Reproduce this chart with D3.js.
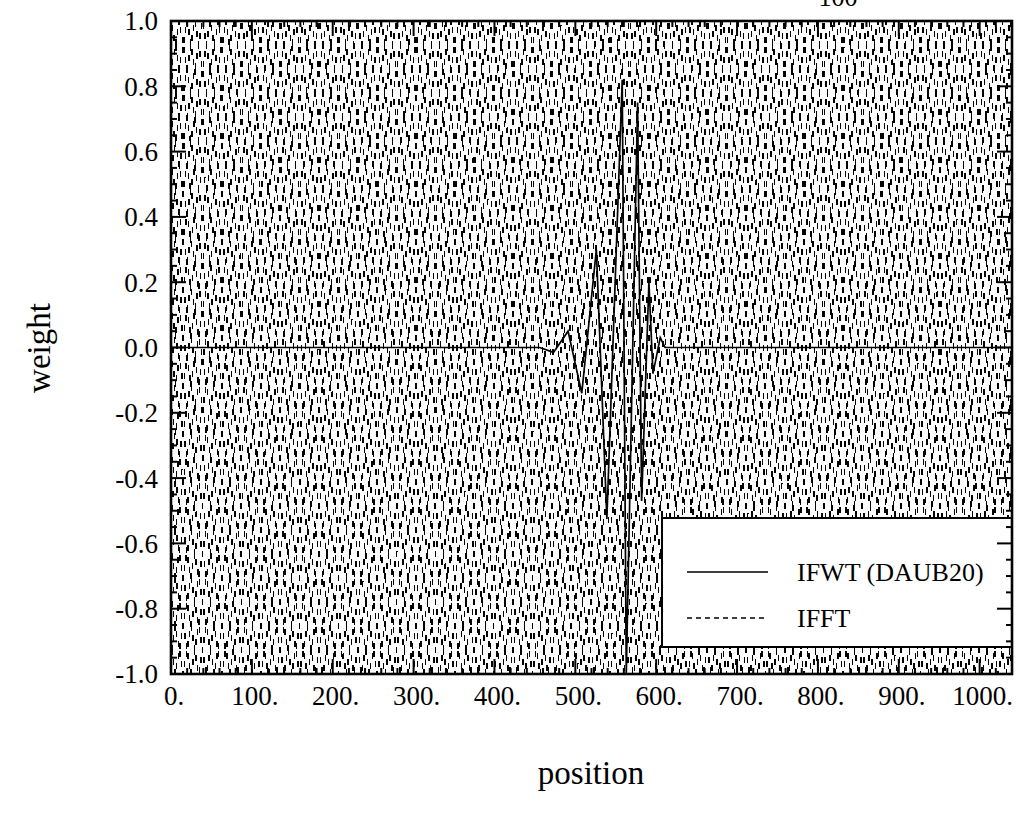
<!DOCTYPE html>
<html><head><meta charset="utf-8">
<script src="https://cdn.jsdelivr.net/npm/d3@7"></script>
<style>
body{margin:0;background:#fff}
svg{display:block}
text{font-family:"Liberation Serif","Times New Roman",serif;fill:#000}
</style>
</head><body>
<svg id="c" width="1031" height="813"></svg>
<script>
// ---- data ----
const xTickValues = [0,100,200,300,400,500,600,700,800,900,1000];
const xTickLabels = ["0.","100.","200.","300.","400.","500.","600.","700.","800.","900.","1000."];
const yTickValues = [-1.0,-0.8,-0.6,-0.4,-0.2,0.0,0.2,0.4,0.6,0.8,1.0];
const yTickLabels = ["-1.0","-0.8","-0.6","-0.4","-0.2","0.0","0.2","0.4","0.6","0.8","1.0"];

// IFWT (DAUB20): flat zero except for the wavelet near the centre
const ifwtPos = [0,456,473,491,508,526,539,558,563,577,582,591,596,605,611,1040];
const ifwtVal = [0,0,-0.015,0.05,-0.14,0.30,-0.525,0.82,-1.0,0.75,-0.47,0.20,-0.08,0.03,0,0];

// IFFT: swings between the two limits at every sample (one sign per position 0..1040)
const ifftAmp = 1.0;
const ifftSigns = [
"+-+-+-+-+-+-+-+-+-+-+-+-+-+-+-+-+-+-+-+-+-+-+-+-+-+-+-+-+-+-+-+-+-+-+-+-+-+-+-+-",
"+-+-+-+-+-+-+-+-+-+-+-+-+-+-+-+-+-+-+-+-+-+-+-+-+-+-+-+-+-+-+-+-+-+-+-+-+-+-+-+-",
"+-+-+-+-+-+-+-+-+-+-+-+-+-+-+-+-+-+-+-+-+-+-+-+-+-+-+-+-+-+-+-+-+-+-+-+-+-+-+-+-",
"+-+-+-+-+-+-+-+-+-+-+-+-+-+-+-+-+-+-+-+-+-+-+-+-+-+-+-+-+-+-+-+-+-+-+-+-+-+-+-+-",
"+-+-+-+-+-+-+-+-+-+-+-+-+-+-+-+-+-+-+-+-+-+-+-+-+-+-+-+-+-+-+-+-+-+-+-+-+-+-+-+-",
"+-+-+-+-+-+-+-+-+-+-+-+-+-+-+-+-+-+-+-+-+-+-+-+-+-+-+-+-+-+-+-+-+-+-+-+-+-+-+-+-",
"+-+-+-+-+-+-+-+-+-+-+-+-+-+-+-+-+-+-+-+-+-+-+-+-+-+-+-+-+-+-+-+-+-+-+-+-+-+-+-+-",
"+-+-+-+-+-+-+-+-+-+-+-+-+-+-+-+-+-+-+-+-+-+-+-+-+-+-+-+-+-+-+-+-+-+-+-+-+-+-+-+-",
"+-+-+-+-+-+-+-+-+-+-+-+-+-+-+-+-+-+-+-+-+-+-+-+-+-+-+-+-+-+-+-+-+-+-+-+-+-+-+-+-",
"+-+-+-+-+-+-+-+-+-+-+-+-+-+-+-+-+-+-+-+-+-+-+-+-+-+-+-+-+-+-+-+-+-+-+-+-+-+-+-+-",
"+-+-+-+-+-+-+-+-+-+-+-+-+-+-+-+-+-+-+-+-+-+-+-+-+-+-+-+-+-+-+-+-+-+-+-+-+-+-+-+-",
"+-+-+-+-+-+-+-+-+-+-+-+-+-+-+-+-+-+-+-+-+-+-+-+-+-+-+-+-+-+-+-+-+-+-+-+-+-+-+-+-",
"+-+-+-+-+-+-+-+-+-+-+-+-+-+-+-+-+-+-+-+-+-+-+-+-+-+-+-+-+-+-+-+-+-+-+-+-+-+-+-+-",
"+"
].join("");

const seriesNames = ["IFWT (DAUB20)","IFFT"];
const xTitle = "position", yTitle = "weight";
const topCutText = "100";

// ---- drawing ----
const svg = d3.select("#c");
const L = 171, R = 1012, T = 21, B = 674;
const x = d3.scaleLinear().domain([0,1040]).range([L,R]);
const y = d3.scaleLinear().domain([-1,1]).range([B,T]);

svg.append("clipPath").attr("id","pc").append("rect")
  .attr("x",L).attr("y",T).attr("width",R-L).attr("height",B-T);

const ifft = Array.from(ifftSigns, (c,i) => ({p:i, v:(c==="+"?1:-1)*ifftAmp}));
const ifwt = ifwtPos.map((p,i) => ({p, v:ifwtVal[i]}));
const line = d3.line().x(d => x(d.p)).y(d => y(d.v));

const plot = svg.append("g").attr("clip-path","url(#pc)");
plot.append("path").datum(ifft).attr("d",line)
  .attr("fill","none").attr("stroke","#000").attr("stroke-width",1.5)
  .attr("stroke-dasharray","6,42").attr("shape-rendering","crispEdges");
plot.append("path").datum(ifwt).attr("d",line)
  .attr("fill","none").attr("stroke","#000").attr("stroke-width",1.7)
  .attr("stroke-linejoin","miter");

// legend
const lg = svg.append("g");
lg.append("rect").attr("x",662).attr("y",518).attr("width",R-662).attr("height",129)
  .attr("fill","#fff").attr("stroke","#000").attr("stroke-width",2);
lg.append("line").attr("x1",687).attr("x2",768).attr("y1",572).attr("y2",572)
  .attr("stroke","#000").attr("stroke-width",1.6);
lg.append("line").attr("x1",687).attr("x2",768).attr("y1",618).attr("y2",618)
  .attr("stroke","#000").attr("stroke-width",1.6).attr("stroke-dasharray","5,4");
lg.append("text").attr("x",797).attr("y",581).attr("font-size",26).text(seriesNames[0]);
lg.append("text").attr("x",797).attr("y",627).attr("font-size",26).text(seriesNames[1]);

// frame
svg.append("rect").attr("x",L).attr("y",T).attr("width",R-L).attr("height",B-T)
  .attr("fill","none").attr("stroke","#000").attr("stroke-width",2.6);

// y ticks (inside, both sides)
const yMinor = d3.range(-1,1.0001,0.05);
const tk = svg.append("g").attr("stroke","#000").attr("stroke-width",2);
yMinor.forEach(v => {
  const major = yTickValues.some(t => Math.abs(t-v) < 1e-6);
  const len = major ? 15 : 6;
  tk.append("line").attr("x1",L).attr("x2",L+len).attr("y1",y(v)).attr("y2",y(v));
  tk.append("line").attr("x1",R).attr("x2",R-len).attr("y1",y(v)).attr("y2",y(v));
});
// x ticks (inside, bottom and top)
d3.range(0,1040.1,20).forEach(v => {
  const major = v % 100 === 0;
  const len = major ? 15 : 6;
  tk.append("line").attr("x1",x(v)).attr("x2",x(v)).attr("y1",B).attr("y2",B-len);
  tk.append("line").attr("x1",x(v)).attr("x2",x(v)).attr("y1",T).attr("y2",T+len);
});

// tick labels
svg.append("g").selectAll("text").data(xTickValues).join("text")
  .attr("x",d => x(d)+3).attr("y",705).attr("text-anchor","middle")
  .attr("font-size",27).text((d,i) => xTickLabels[i]);
svg.append("g").selectAll("text").data(yTickValues).join("text")
  .attr("x",158).attr("y",d => y(d)).attr("dy","0.35em").attr("text-anchor","end")
  .attr("font-size",27).text((d,i) => yTickLabels[i]);

// axis titles
svg.append("text").attr("x",591).attr("y",784).attr("text-anchor","middle")
  .attr("font-size",33).text(xTitle);
svg.append("text").attr("transform","translate(50,348) rotate(-90)")
  .attr("text-anchor","middle").attr("font-size",33).text(yTitle);

// cut-off text at the very top edge
svg.append("text").attr("x",838).attr("y",6).attr("text-anchor","middle")
  .attr("font-size",26).text(topCutText);
</script>
</body></html>
